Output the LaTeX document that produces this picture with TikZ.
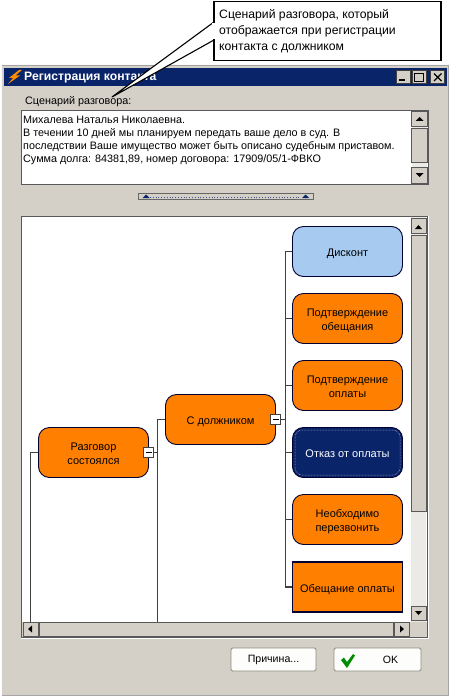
\documentclass[tikz,border=0pt]{standalone}
\usepackage{fontspec}
\setmainfont{Liberation Sans}
\definecolor{winbg}{HTML}{D4D0C8}
\definecolor{navy}{HTML}{0A246A}
\definecolor{orng}{HTML}{FF8000}
\definecolor{lblue}{HTML}{A6CAF0}
\definecolor{edge}{HTML}{404040}
\definecolor{btnedge}{HTML}{8C8A78}
\definecolor{dither}{HTML}{ECEAE6}
\newcommand{\tl}[1]{\raisebox{-5.2pt}[0pt][0pt]{\begin{tabular}[c]{@{}c@{}}#1\end{tabular}}}
\tikzset{
 treenode/.style={draw=black!80!blue,line width=0.9pt,fill=orng,minimum width=110pt,minimum height=50pt,inner sep=0pt,rounded corners=11pt,align=center,font=\fontsize{11}{13.3}\selectfont,text=black},
 squarenode/.style={treenode,rounded corners=0pt},
 selnode/.style={treenode,fill=navy,text=white},
 bluenode/.style={treenode,fill=lblue},
 toggle/.style={draw=edge,fill=white,line width=0.7pt,minimum size=10pt,inner sep=0pt},
 link/.style={draw=edge,line width=1.1pt},
 sbtn/.style={draw=gray!70!black,fill=winbg,line width=0.5pt},
 pushbtn/.style={draw=btnedge,fill=white!95!winbg,line width=0.8pt,rounded corners=1.5pt,minimum width=85pt,minimum height=23pt,inner sep=0pt,font=\fontsize{10.6}{12}\selectfont},
 wintext/.style={inner sep=0pt,anchor=west,font=\fontsize{10.8}{13}\selectfont,text=black},
}
\begin{document}
\begin{tikzpicture}[x=1pt,y=-1pt]
\useasboundingbox (0,0) rectangle (451,698);
\fill[white] (0,0) rectangle (451,698);
% window
\fill[white!90!winbg] (0.5,64.5) rectangle (449,696);
\fill[gray!70] (1.5,65.5) rectangle (448.5,696);
\fill[winbg] (2,66) rectangle (447.5,694.5);
\fill[navy] (4,68) rectangle (447,86);
% title icon
\fill[orange!90!yellow] (19,70) -- (9,78) -- (13,78) -- (8,84) -- (20,75.5) -- (15.5,75.5) -- (22,70) -- cycle;
\node[anchor=west,inner sep=0pt,text=white,font=\fontsize{12.2}{13}\selectfont\bfseries] (title) at (24,77.5) {Регистрация контакта};
% title buttons
\foreach \bx in {396,412,430}{\fill[winbg,draw=gray!50!black,line width=0.4pt] (\bx,70.5) rectangle ++(14.5,13);}
\fill[black] (399,79.5) rectangle (405,81.5);
\draw[black,line width=0.9pt] (414.5,73.5) rectangle (423,81.5);
\draw[black,line width=1.3pt] (434,73.5) -- (441.5,81) (441.5,73.5) -- (434,81);
% label and script box
\node[wintext] (lab) at (25,102) {Сценарий разговора:};
\draw[gray!70!black,line width=1pt,fill=white] (21.5,110.5) rectangle (428,184);
\node[wintext,anchor=north west,align=left] (script) at (23,115.5) {Михалева Наталья Николаевна.\\В течении 10 дней мы планируем передать ваше дело в суд. В\\последствии Ваше имущество может быть описано судебным приставом.\\Сумма долга: 84381,89, номер договора: 17909/05/1-ФВКО};
\fill[dither] (411.5,111) rectangle (427,183);
\draw[sbtn] (411.5,111.5) rectangle (427,126);
\draw[sbtn] (411.5,128) rectangle (427,162);
\draw[sbtn] (411.5,167) rectangle (427,183);
\fill[black] (415.5,121) -- (419.5,117) -- (423.5,121) -- cycle;
\fill[black] (415.5,173) -- (419.5,177) -- (423.5,173) -- cycle;
% splitter
\draw[gray!80!black,fill=winbg,line width=0.6pt] (138,193.5) rectangle (313,199.5);
\draw[navy!80!white,dotted,line width=0.8pt] (150,197) -- (300,197);
\fill[navy] (142.5,198) -- (146,194.5) -- (149.5,198) -- cycle;
\fill[navy] (302,198) -- (305.5,194.5) -- (309,198) -- cycle;
% tree panel
\draw[gray!70!black,line width=1pt,fill=white] (21.5,216) rectangle (427,637);
\draw[white,line width=1pt] (428,216) -- (428,638) -- (21,638);
% tree nodes
\node[bluenode] (n1) at (347.5,251.5) {\tl{Дисконт}};
\node[treenode] (n2) at (347.5,318.5) {\tl{Подтверждение\\обещания}};
\node[treenode] (n3) at (347.5,385.5) {\tl{Подтверждение\\оплаты}};
\node[selnode] (n4) at (347.5,452.5) {\tl{Отказ от оплаты}};
\draw[white!80!navy,densely dotted,line width=0.5pt,rounded corners=7pt] (295,430) rectangle (400,475);
\node[treenode] (n5) at (347.5,519.5) {\tl{Необходимо\\перезвонить}};
\node[squarenode,line width=1.3pt] (n6) at (347.5,587) {\tl{Обещание оплаты}};
\node[treenode] (c) at (220.5,419.5) {\tl{С должником}};
\node[treenode] (r) at (93.5,452.5) {\tl{Разговор\\состоялся}};
\node[toggle] (ct) at (275.7,419.5) {};
\node[toggle] (rt) at (148.7,452.5) {};
\draw[black,line width=1pt] (272.7,419.5) -- (278.7,419.5) (145.7,452.5) -- (151.7,452.5);
% connectors
\coordinate (trunk) at (285.5,251.5);
\coordinate (mid) at (157.5,419.5);
\coordinate (lft) at (30.5,452.5);
\coordinate (bot1) at (157.5,622);
\coordinate (bot2) at (30.5,622);
\path[link] (ct.east) -- (ct.east -| trunk);
\path[link] (n1.west) -- (trunk) -- (trunk |- n6.west) -- (n6.west);
\path[link] (n2.west) -- (n2.west -| trunk);
\path[link] (n3.west) -- (n3.west -| trunk);
\path[link] (n4.west) -- (n4.west -| trunk);
\path[link] (n5.west) -- (n5.west -| trunk);
\path[link] (rt.east) -- (rt.east -| mid);
\path[link] (c.west) -- (mid) -- (bot1);
\path[link] (r.west) -- (lft) -- (bot2);
% tree scrollbars
\fill[dither] (411,217) rectangle (426,622);
\draw[sbtn] (411,218) rectangle (426,233);
\draw[sbtn] (411,235) rectangle (426,511);
\draw[sbtn] (411,606) rectangle (426,620.5);
\fill[black] (415,229) -- (418.5,225) -- (422,229) -- cycle;
\fill[black] (415,611) -- (418.5,615) -- (422,611) -- cycle;
\fill[winbg] (22,621.5) rectangle (426.5,636.5);
\draw[sbtn] (23,622) rectangle (38,636);
\draw[sbtn] (39,622.5) rectangle (393,636);
\draw[sbtn] (394,622) rectangle (409,636);
\fill[black] (32,625.5) -- (28,629) -- (32,632.5) -- cycle;
\fill[black] (400,625.5) -- (404,629) -- (400,632.5) -- cycle;
% push buttons
\node[pushbtn] (cause) at (273.5,659.5) {Причина...};
\node[pushbtn,minimum width=87pt] (ok) at (377.5,659.5) {\hspace*{26pt}OK};
\fill[green!55!black] (341,660) -- (344,657.5) -- (347,662) -- (353,654) -- (355,655.5) -- (347,668) -- cycle;
% callout
\filldraw[fill=white,draw=black,line width=1.1pt,line join=round] (214,22) -- (112,97) -- (214,40);
\node[draw=black,fill=white,line width=1.4pt,minimum width=227pt,minimum height=58.5pt,inner sep=0pt] (call) at (327.5,31) {};
\fill[white] (212,23) -- (216,23) -- (216,39) -- (212,39) -- cycle;
\node[anchor=north west,inner sep=0pt,align=left,font=\fontsize{12.2}{16}\selectfont,text=black] (calltext) at (219,9) {Сценарий разговора, который\\отображается при регистрации\\контакта с должником};
\end{tikzpicture}
\end{document}
